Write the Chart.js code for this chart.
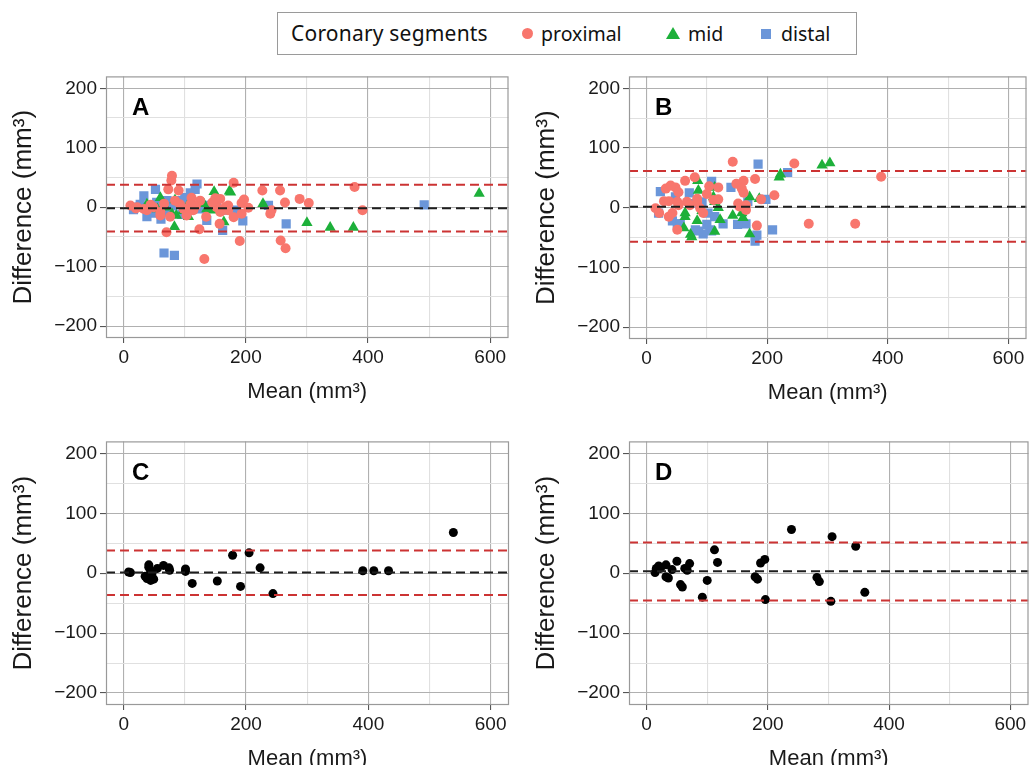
<!DOCTYPE html>
<html>
<head>
<meta charset="utf-8">
<script src="https://cdn.jsdelivr.net/npm/chart.js@4/dist/chart.umd.min.js"></script>
<style>
body{margin:0;width:1033px;height:765px;overflow:hidden;background:#fff;position:relative;font-family:"Liberation Sans",Arial,sans-serif}
canvas{position:absolute}
#legend{position:absolute;left:277px;top:12px;width:578px;height:41px;border:1px solid #9a9a9a;font-family:"Noto Sans",sans-serif;font-size:20px;color:#111}
#legend .t{position:absolute;top:0;line-height:41px}
#legend .m{position:absolute}
</style>
</head>
<body>
<div id="legend">
  <span class="t" style="left:13px;font-size:21px;letter-spacing:0.2px">Coronary segments</span>
  <span class="m" style="left:244px;top:15px;width:11px;height:11px;border-radius:50%;background:#F8766D"></span>
  <span class="t" style="left:263px;font-size:19.5px">proximal</span>
  <span class="m" style="left:388px;top:14px;width:0;height:0;border-left:7px solid transparent;border-right:7px solid transparent;border-bottom:12px solid #1DB03A"></span>
  <span class="t" style="left:410px;font-size:19.5px">mid</span>
  <span class="m" style="left:483px;top:16px;width:10px;height:10px;background:#6B96D9"></span>
  <span class="t" style="left:503px;font-size:19.5px">distal</span>
</div>
<canvas id="chartA" width="515" height="350" style="left:0px;top:62px"></canvas>
<canvas id="chartB" width="510" height="350" style="left:523px;top:62px"></canvas>
<canvas id="chartC" width="515" height="350" style="left:0px;top:427px"></canvas>
<canvas id="chartD" width="510" height="350" style="left:523px;top:427px"></canvas>
<script>
// axis limits (ggplot style, limits +-200 / 0..600 with expansion)
const X_MIN = -29, X_MAX = 630;
const Y_MIN = -220, Y_MAX = 220;

// Panel A: [mean, difference] by segment
const a_proximal = [[79,53],[78,45],[73,30],[90,28],[180,41],[227,28],[256,28],[264,8],[288,14],[303,7],[378,34],[391,-5],[242,-5],[240,-11],[190,-57],[257,-56],[265,-69],[132,-87],[70,-42],[124,-37],[157,-28],[135,-16],[180,-17],[197,13],[193,7],[204,-1],[158,14],[150,15],[125,11],[111,16],[92,5],[76,-16],[60,-8],[33,-3],[11,3],[49,0],[98,-3],[166,0],[171,-5],[103,-14],[158,-8],[114,-5],[84,11],[109,5],[60,-14],[38,-5],[22,0],[152,0],[163,-5],[171,3],[193,-11],[145,8],[118,2],[66,6],[44,4],[20,-2],[104,-9]];
const a_mid = [[148,26],[173,27],[175,25],[582,23],[228,6],[300,-26],[338,-34],[376,-34],[164,-25],[83,-33],[86,-14],[79,-11],[60,16],[38,5],[84,12],[109,11],[106,-16],[114,3],[136,-3],[144,-5],[131,6],[68,0],[55,-3],[97,-6]];
const a_distal = [[120,39],[117,30],[52,30],[109,24],[33,19],[100,16],[152,8],[139,3],[492,4],[237,3],[185,-5],[195,-23],[168,-5],[136,-22],[162,-39],[266,-28],[38,-16],[61,-20],[66,-77],[83,-81],[16,-4],[27,5],[54,8],[71,11],[92,11],[103,5],[68,-8],[44,-5],[125,-3],[20,0],[48,-10],[80,2],[112,-2],[95,-12]];
const a_lines = [-1.6, 37.6, -40.9]; // bias, upper LoA, lower LoA

// Panel B
const b_proximal = [[143,77],[245,74],[389,52],[269,-27],[346,-27],[180,48],[161,45],[149,40],[158,32],[161,25],[212,21],[183,-30],[64,45],[80,51],[104,36],[119,34],[32,32],[48,34],[53,26],[29,11],[37,11],[51,10],[67,10],[84,15],[100,23],[111,13],[119,14],[152,7],[154,2],[165,-4],[165,4],[15,-1],[21,-9],[37,-15],[43,-9],[51,-37],[72,4],[94,-9],[84,10],[190,14],[53,4],[89,-1],[40,37]];
const b_mid = [[291,71],[304,75],[222,56],[220,51],[85,45],[86,29],[113,34],[119,0],[171,18],[187,15],[122,-20],[143,-13],[158,-9],[160,-17],[171,-44],[113,-40],[64,-9],[64,-15],[62,-34],[73,-45],[75,-49],[84,-22],[92,-5],[111,18],[113,10]];
const b_distal = [[185,73],[234,59],[198,14],[209,-37],[183,-46],[180,-56],[165,-27],[151,-28],[127,-27],[140,34],[108,44],[71,25],[23,27],[48,18],[75,7],[92,10],[102,-9],[105,-37],[94,-44],[86,-39],[100,-28],[43,-22],[51,-27],[20,-9],[168,10],[56,-27],[81,-37],[113,-15],[108,-39]];
const b_lines = [1.6, 61.6, -57.2];

// Panel C
const c_points = [[8,2],[11,1],[41,14],[41,10],[35,-5],[38,-9],[44,-12],[49,-10],[46,-3],[44,3],[55,8],[65,13],[74,9],[75,5],[101,7],[101,3],[112,-17],[153,-13],[178,30],[205,34],[191,-22],[223,9],[244,-34],[391,4],[409,4],[433,4],[539,68]];
const c_lines = [1, 38, -36.5];

// Panel D
const d_points = [[14,1],[16,8],[20,12],[23,8],[32,14],[32,-6],[36,-8],[42,6],[50,20],[56,-19],[59,-23],[63,8],[67,5],[71,16],[92,-40],[100,-12],[112,39],[117,18],[179,-6],[183,-10],[188,17],[195,23],[196,-44],[239,73],[281,-7],[285,-14],[306,61],[304,-47],[345,45],[360,-32]];
const d_lines = [3.4, 51.4, -45.6];

const COL_PROX = "#F8766D", COL_MID = "#1DB03A", COL_DIST = "#6B96D9";
const GRID_MAJOR = "#b0b0b0", GRID_MINOR = "#e0e0e0";
const TEXT_COL = "#1a1a1a";

Chart.defaults.font.family = "'Liberation Sans', Arial, sans-serif";
Chart.defaults.color = TEXT_COL;

function pts(arr){
  return arr.map(p => ({x: p[0], y: p[1]}));
}

function fmt(v){
  return v < 0 ? "\u2212" + Math.abs(v) : String(v);
}

function marks(arr, color, style, r){
  return {
    data: pts(arr),
    pointStyle: style,
    pointRadius: r,
    pointBackgroundColor: color,
    pointBorderWidth: 0,
    borderWidth: 0,
    order: 1
  };
}

function hline(v, color){
  return {
    data: [{x: X_MIN, y: v}, {x: X_MAX, y: v}],
    showLine: true,
    borderColor: color,
    borderWidth: 2,
    borderDash: [9, 5],
    pointRadius: 0,
    order: 0
  };
}

function lineSets(vals){
  return [hline(vals[0], "#1e1e1e"), hline(vals[1], "#CC3333"), hline(vals[2], "#CC3333")];
}

// draws panel border and the letter
const panelDeco = {
  id: "panelDeco",
  afterDraw(chart, args, opts){
    const a = chart.chartArea, ctx = chart.ctx;
    ctx.save();
    ctx.strokeStyle = "#999999";
    ctx.lineWidth = 1.2;
    ctx.strokeRect(a.left + 0.5, a.top + 0.5, a.right - a.left - 1, a.bottom - a.top - 1);
    ctx.fillStyle = "#000";
    ctx.font = "bold 24px 'Liberation Sans', Arial, sans-serif";
    ctx.textBaseline = "alphabetic";
    ctx.fillText(opts.text, a.left + 26, a.top + 38.5);
    ctx.restore();
  }
};

function make_chart(id, letter, datasets, geo){
  return new Chart(document.getElementById(id).getContext("2d"), {
    type: "scatter",
    data: {datasets: datasets},
    plugins: [panelDeco],
    options: {
      responsive: false,
      animation: false,
      devicePixelRatio: 1,
      layout: {padding: {top: geo.padTop, right: geo.padRight, left: 0, bottom: 0}},
      plugins: {
        legend: {display: false},
        tooltip: {enabled: false},
        panelDeco: {text: letter}
      },
      scales: {
        x: {
          type: "linear", min: X_MIN, max: X_MAX,
          afterFit: s => { s.height = geo.xH; },
          border: {display: false},
          grid: {
            color: c => (c.tick && c.tick.value % 200 === 0) ? GRID_MAJOR : GRID_MINOR,
            lineWidth: 1.1,
            tickLength: 5,
            tickColor: c => (c.tick && c.tick.value % 200 === 0) ? "#555" : "rgba(0,0,0,0)"
          },
          ticks: {
            stepSize: 100, includeBounds: false, autoSkip: false, maxRotation: 0,
            padding: 3, font: {size: 19}, color: TEXT_COL,
            callback: v => v % 200 === 0 ? fmt(v) : ""
          },
          title: {display: true, text: "Mean (mm\u00B3)", font: {size: 22}, color: TEXT_COL,
                  padding: {top: 0, bottom: geo.xTitlePad}}
        },
        y: {
          type: "linear", min: Y_MIN, max: Y_MAX,
          afterFit: s => { s.width = geo.yW; },
          border: {display: false},
          grid: {
            color: c => (c.tick && c.tick.value % 100 === 0) ? GRID_MAJOR : GRID_MINOR,
            lineWidth: 1.1,
            tickLength: 6,
            tickColor: c => (c.tick && c.tick.value % 100 === 0) ? "#555" : "rgba(0,0,0,0)"
          },
          ticks: {
            stepSize: 50, includeBounds: false, autoSkip: false,
            padding: 3, font: {size: 19}, color: TEXT_COL,
            callback: v => v % 100 === 0 ? fmt(v) : ""
          },
          title: {display: true, text: "Difference (mm\u00B3)", font: {size: 26}, color: TEXT_COL,
                  padding: {top: 8, bottom: 0}}
        }
      }
    }
  });
}

const charts = {};
charts.A = make_chart("chartA", "A",
  lineSets(a_lines).concat([
    marks(a_proximal, COL_PROX, "circle", 5),
    marks(a_mid, COL_MID, "triangle", 6.5),
    marks(a_distal, COL_DIST, "rect", 6.5)
  ]),
  {padTop: 8, padRight: 6, yW: 106, xH: 74, xTitlePad: 7});

charts.B = make_chart("chartB", "B",
  lineSets(b_lines).concat([
    marks(b_proximal, COL_PROX, "circle", 5),
    marks(b_mid, COL_MID, "triangle", 6.5),
    marks(b_distal, COL_DIST, "rect", 6.5)
  ]),
  {padTop: 8, padRight: 0, yW: 106, xH: 73, xTitlePad: 6});

charts.C = make_chart("chartC", "C",
  lineSets(c_lines).concat([marks(c_points, "#000000", "circle", 4.5)]),
  {padTop: 8, padRight: 6, yW: 106, xH: 72, xTitlePad: 5});

charts.D = make_chart("chartD", "D",
  lineSets(d_lines).concat([marks(d_points, "#000000", "circle", 4.5)]),
  {padTop: 8, padRight: 0, yW: 106, xH: 72, xTitlePad: 5});
</script>
</body>
</html>
